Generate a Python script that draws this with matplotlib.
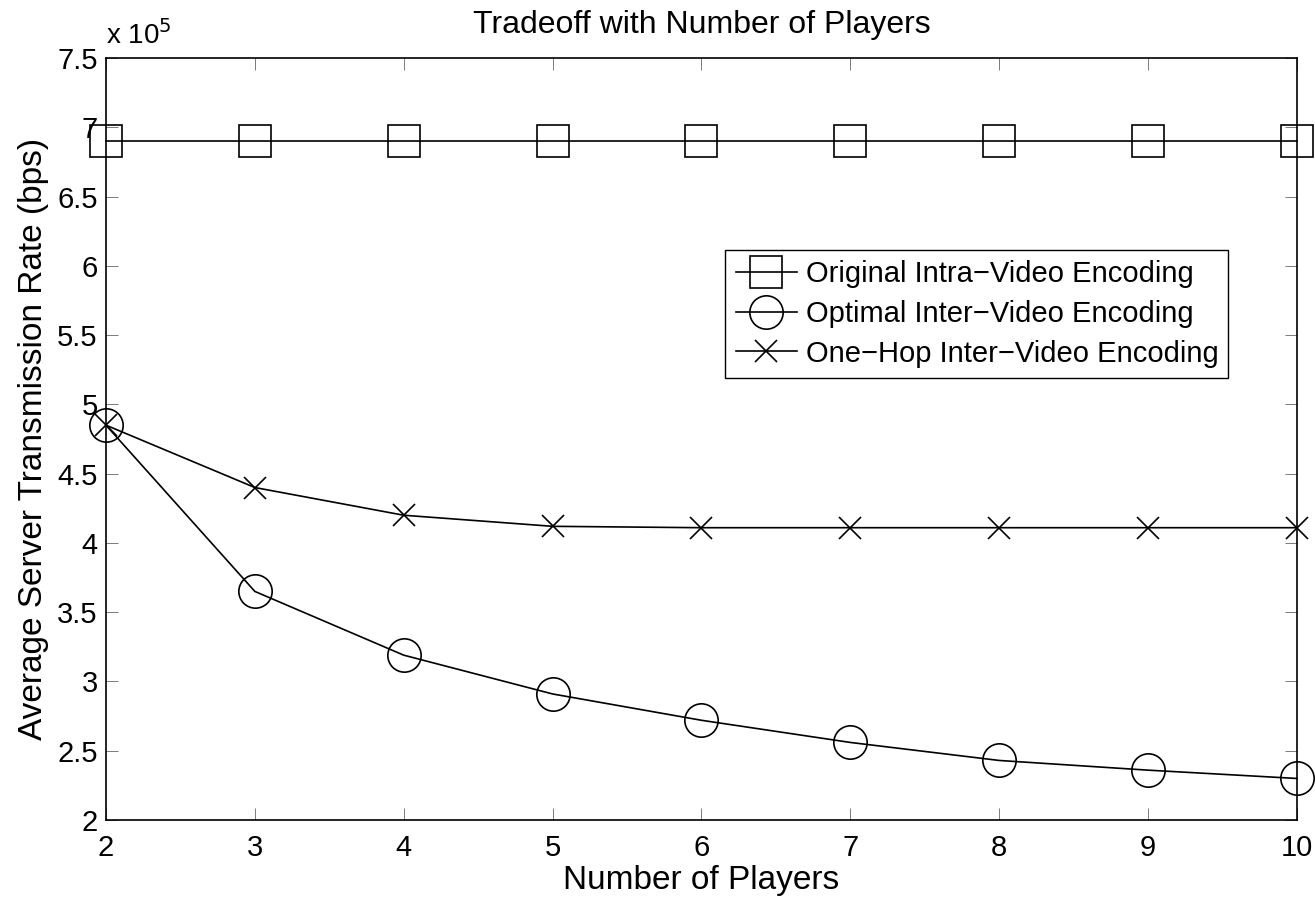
import matplotlib.pyplot as plt
import numpy as np

plt.rcParams['font.family'] = ['Liberation Sans', 'DejaVu Sans']

# data, y in units of 1e5 bps
players = [2, 3, 4, 5, 6, 7, 8, 9, 10]
intra = [6.90, 6.90, 6.90, 6.90, 6.90, 6.90, 6.90, 6.90, 6.90]
optimal = [4.85, 3.65, 3.19, 2.91, 2.72, 2.56, 2.43, 2.36, 2.30]
onehop = [4.85, 4.40, 4.20, 4.12, 4.11, 4.11, 4.11, 4.11, 4.11]
labels = ['Original Intra\u2212Video Encoding',
          'Optimal Inter\u2212Video Encoding',
          'One\u2212Hop Inter\u2212Video Encoding']
yticks = np.arange(2, 7.51, 0.5)

fig = plt.figure(figsize=(13.15, 8.97), dpi=100)
ax = fig.add_axes([0.0806, 0.0858, 0.9057, 0.8495])

lw = 1.2
ax.plot(players, intra, 'k-', marker='s', markersize=23, markerfacecolor='none',
        markeredgewidth=lw, linewidth=lw, label=labels[0], clip_on=False)
ax.plot(players, optimal, 'k-', marker='o', markersize=24, markerfacecolor='none',
        markeredgewidth=lw, linewidth=lw, label=labels[1], clip_on=False)
ax.plot(players, onehop, 'k-', marker='x', markersize=16,
        markeredgewidth=lw, linewidth=lw, label=labels[2], clip_on=False)

ax.set_xlim(2, 10)
ax.set_ylim(2, 7.5)
ax.set_xticks(players)
ax.set_yticks(yticks)
ax.set_yticklabels(['%g' % v for v in yticks])
ax.tick_params(direction='in', length=8.5, width=0.6, color='0.4',
               top=True, right=True, labelsize=21, pad=6)
ax.tick_params(axis='x', pad=10)
for s in ax.spines.values():
    s.set_linewidth(1.2)

ax.set_xlabel('Number of Players', fontsize=24, labelpad=2)
ax.set_ylabel('Average Server Transmission Rate (bps)', fontsize=24, labelpad=6)
ax.set_title('Tradeoff with Number of Players', fontsize=23, pad=18)
ax.text(0.0, 1.01, r'x 10$^5$', transform=ax.transAxes, fontsize=20,
        ha='left', va='bottom')

leg = ax.legend(loc='upper left', bbox_to_anchor=(0.52, 0.748), fontsize=21,
                fancybox=False, edgecolor='black', framealpha=1,
                handlelength=2.1, borderaxespad=0, labelspacing=0.4,
                handletextpad=0.3, borderpad=0.35)
leg.get_frame().set_linewidth(1.0)

plt.savefig('out.png')
